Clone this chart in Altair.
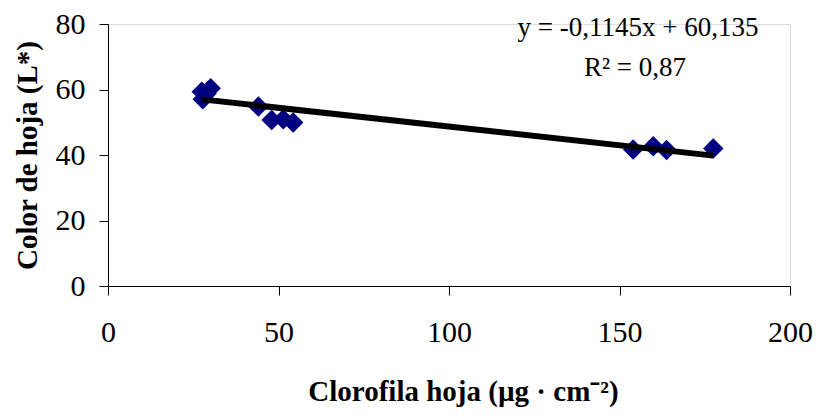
import altair as alt
import pandas as pd

# Data
clorofila = [27.5, 27.8, 28.9, 30.1, 44.1, 48.0, 51.4, 54.3, 154.0, 159.9, 163.8, 177.5]
color_l = [59.3, 57.0, 58.8, 60.4, 54.8, 50.7, 50.9, 49.9, 41.7, 42.7, 41.5, 42.0]

slope = -0.1145
intercept = 60.135
x_ticks = [0, 50, 100, 150, 200]
y_ticks = [0, 20, 40, 60, 80]
eq_lines = ["y = -0,1145x + 60,135", "R² = 0,87"]

pts = pd.DataFrame({"x": clorofila, "y": color_l})
xmin, xmax = min(clorofila), max(clorofila)
fit = pd.DataFrame({"x": [xmin, xmax], "y": [slope * xmin + intercept, slope * xmax + intercept]})

FONT = "'Times New Roman', 'Liberation Serif', serif"

xscale = alt.Scale(domain=[0, 200], nice=False)
yscale = alt.Scale(domain=[0, 80], nice=False)

xaxis = alt.Axis(values=x_ticks, grid=False, tickSize=9, tickColor="black", domainColor="black",
                 labelFont=FONT, labelFontSize=30, labelColor="black", labelPadding=22,
                 labelFlush=False,
                 title="Clorofila hoja (µg · cm⁻²)", titleFont=FONT, titleFontSize=29,
                 titleFontWeight="bold", titleColor="black", titleX=355, titleY=114,
                 titleBaseline="alphabetic")
yaxis = alt.Axis(values=y_ticks, grid=False, tickSize=9, tickColor="black", domainColor="black",
                 labelFont=FONT, labelFontSize=30, labelColor="black", labelPadding=14,
                 labelFlush=False,
                 title="Color de hoja (L*)", titleFont=FONT, titleFontSize=29,
                 titleFontWeight="bold", titleColor="black", titleX=-72, titleY=131,
                 titleBaseline="alphabetic", titleAngle=270)

points = alt.Chart(pts).mark_point(shape="diamond", filled=True, size=420, color="#000080",
                                   opacity=1).encode(
    x=alt.X("x:Q", scale=xscale, axis=xaxis),
    y=alt.Y("y:Q", scale=yscale, axis=yaxis),
)

line = alt.Chart(fit).mark_line(color="black", strokeWidth=6).encode(
    x=alt.X("x:Q", scale=xscale),
    y=alt.Y("y:Q", scale=yscale),
)

eq1 = alt.Chart(pd.DataFrame({"t": [eq_lines[0]]})).mark_text(
    font=FONT, fontSize=27, color="black", align="center", baseline="middle"
).encode(text="t:N", x=alt.value(530), y=alt.value(4))
eq2 = alt.Chart(pd.DataFrame({"t": [eq_lines[1]]})).mark_text(
    font=FONT, fontSize=27, color="black", align="center", baseline="middle"
).encode(text="t:N", x=alt.value(527), y=alt.value(44))

chart = alt.layer(points, line, eq1, eq2).properties(
    width=682, height=262,
    autosize=alt.AutoSizeParams(type="none"),
    padding={"left": 100, "top": 16, "right": 24, "bottom": 122},
).configure_view(stroke=None).configure_axis(
    labelFont=FONT, titleFont=FONT
).configure(background="white")

chart.save("out.html", embed_options={"renderer": "svg", "actions": False})
